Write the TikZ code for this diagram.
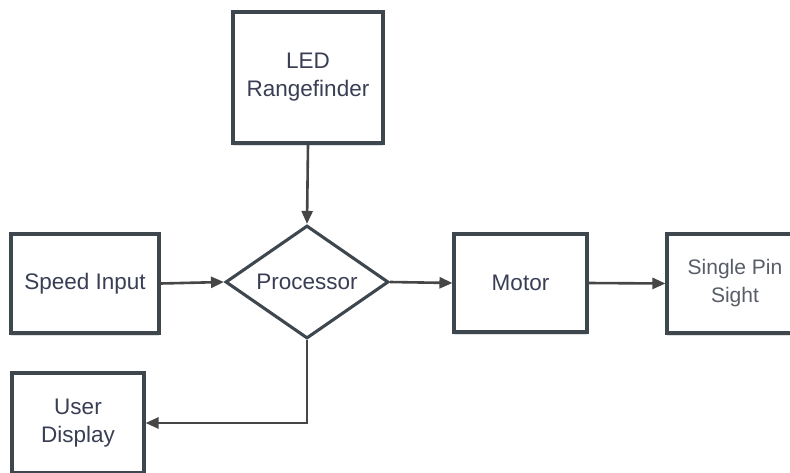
\documentclass[tikz,border=0pt]{standalone}
\usepackage{fontspec}
\setmainfont{Liberation Sans}
\usetikzlibrary{arrows.meta,shapes.geometric,shadows}
\definecolor{txt}{RGB}{58,62,84}
\definecolor{txtlight}{RGB}{88,93,104}
\definecolor{bord}{RGB}{62,70,78}
\definecolor{conn}{RGB}{70,70,70}
\begin{document}
\begin{tikzpicture}[x=1pt,y=-1pt,
  blk/.style={draw=bord,line width=3.1pt,fill=white,rectangle,align=center,
    text=txt,font=\fontsize{22.5}{28}\selectfont,inner sep=0pt,
    drop shadow={shadow xshift=0pt,shadow yshift=-3pt,opacity=0.12,fill=black}},
  dia/.style={draw=bord,line width=3.1pt,fill=white,diamond,aspect=1.44,
    text=txt,font=\fontsize{22.5}{28}\selectfont,inner sep=0pt,
    minimum width=163pt,minimum height=113pt},
  conn/.style={draw=conn,line width=2.6pt,-{Triangle[length=13pt,width=11pt]}}]
\useasboundingbox (0,0) rectangle (790,472);
\clip (0,0) rectangle (790,472);
\node[blk,minimum width=150pt,minimum height=131pt] (led) at (308,77.5) {LED\\Rangefinder};
\node[dia] (proc) at (307,282) {Processor};
\node[blk,minimum width=148pt,minimum height=99pt] (speed) at (85,283.5) {Speed Input};
\node[blk,minimum width=133pt,minimum height=98pt] (motor) at (520.5,283) {Motor};
\node[blk,minimum width=136pt,minimum height=99pt,text=txtlight,font=\fontsize{21}{28}\selectfont] (sight) at (735,283.5) {Single Pin\\Sight};
\node[blk,minimum width=132pt,minimum height=100pt] (user) at (78,423) {User\\Display};
\draw[conn] (led.south) -- (proc.north);
\draw[conn] (speed.east) -- (proc.west);
\draw[conn] (proc.east) -- (motor.west);
\draw[conn] (motor.east) -- (sight.west);
\draw[conn] (proc.south) |- (user.east);
\end{tikzpicture}
\end{document}
